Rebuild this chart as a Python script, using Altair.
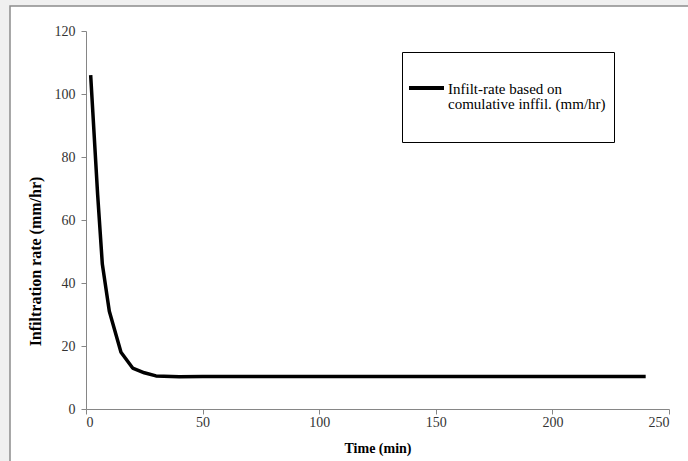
import altair as alt
import pandas as pd

# ---- data ----
time_min = [2, 5, 7, 10, 15, 20, 25, 30, 40, 50, 60, 90, 120, 150, 180, 210, 240]
rate_mm_hr = [106, 68, 46, 31, 18, 13, 11.5, 10.5, 10.2, 10.3, 10.3, 10.3, 10.3, 10.3, 10.3, 10.3, 10.3]
series_name = "Infilt-rate based on comulative inffil. (mm/hr)"
legend_text = ["Infilt-rate based on", "comulative inffil. (mm/hr)"]
x_ticks = [0, 50, 100, 150, 200, 250]
y_ticks = [0, 20, 40, 60, 80, 100, 120]

df = pd.DataFrame({
    "Time": time_min,
    "Rate": rate_mm_hr,
    "Series": [series_name] * len(time_min),
})

FONT = "Liberation Serif"
BLANK = "\u2800"          # invisible blank glyph used as a spacer line
WIDE = "\u2800" * 15      # invisible spacer line that widens the legend box
legend_lines = [BLANK, BLANK] + legend_text + [BLANK, WIDE]

# decorative page frame (white sheet on grey background)
frame = alt.Chart(pd.DataFrame({"k": [0]})).mark_rect(
    fill="white", stroke="#8c8c8c", strokeWidth=1.5
).encode(
    x=alt.value(-76), x2=alt.value(640), y=alt.value(-25), y2=alt.value(460)
)

line = alt.Chart(df).mark_line(strokeWidth=3.5, strokeJoin="round").encode(
    x=alt.X(
        "Time:Q",
        scale=alt.Scale(domain=[0, 250], nice=False),
        axis=alt.Axis(
            values=x_ticks, title="Time (min)", grid=False,
            labelPadding=1, titlePadding=12, zindex=1, titleFontSize=14,
        ),
    ),
    y=alt.Y(
        "Rate:Q",
        scale=alt.Scale(domain=[0, 120], nice=False),
        axis=alt.Axis(
            values=y_ticks, title="Infiltration rate (mm/hr)", grid=False,
            labelPadding=6, titleX=-43, titleY=230, zindex=1, titleFontSize=16,
        ),
    ),
    color=alt.Color(
        "Series:N",
        scale=alt.Scale(range=["black"]),
        legend=alt.Legend(
            orient="none", legendX=316, legendY=21,
            padding=1, strokeColor="black", fillColor="white", cornerRadius=0,
            symbolType="stroke", symbolSize=1225, symbolStrokeWidth=4,
            symbolOffset=4, clipHeight=70,
            labelExpr="''", labelOffset=0,
            title=legend_lines, titleOrient="right", titleAnchor="start",
            titleBaseline="top", titleAlign="left",
            titleFont=FONT, titleFontSize=15, titleFontWeight="normal",
            titleLineHeight=14.5, titlePadding=2, titleColor="black", titleLimit=400,
        ),
    ),
)

chart = alt.layer(frame, line).properties(
    width=583, height=378,
    autosize=alt.AutoSizeParams(type="none"),
    padding={"left": 86, "top": 31, "right": 19, "bottom": 52},
    background="#f0f0f0",
).configure_view(stroke=None).configure_axis(
    domainColor="#868686", tickColor="#868686", tickSize=5,
    labelFont=FONT, labelFontSize=14, labelColor="#333333",
    titleFont=FONT, titleFontWeight="bold", titleColor="black",
)

chart.save("out.html", embed_options={"renderer": "svg", "actions": False})
